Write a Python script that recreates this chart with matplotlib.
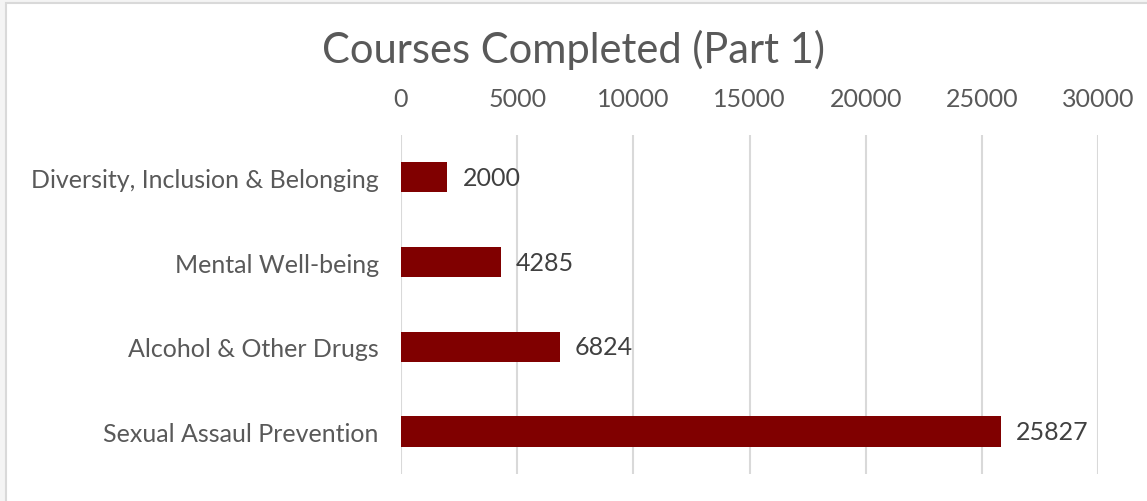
import matplotlib.pyplot as plt
from matplotlib.patches import Rectangle

plt.rcParams["font.family"] = ["Lato", "DejaVu Sans"]

courses = [
    "Diversity, Inclusion & Belonging",
    "Mental Well-being",
    "Alcohol & Other Drugs",
    "Sexual Assaul Prevention",
]
completed = [2000, 4285, 6824, 25827]
x_ticks = [0, 5000, 10000, 15000, 20000, 25000, 30000]

bar_color = "#800000"
grid_color = "#d9d9d9"
tick_color = "#595959"
label_color = "#404040"

fig = plt.figure(figsize=(11.47, 5.02), dpi=100, facecolor="#f4f4f4")
ax = fig.add_axes([0.3496, 0.054, 0.6077, 0.675])
ax.set_facecolor("none")

pos = list(range(len(courses)))
ax.barh(pos, completed, height=0.355, color=bar_color, zorder=3)
for y, v in zip(pos, completed):
    ax.text(v + 650, y, f"{v}", va="center", ha="left",
            fontsize=18, color=label_color)

ax.set_xlim(0, 30000)
ax.set_ylim(len(courses) - 0.5, -0.5)
ax.set_xticks(x_ticks)
ax.set_xticklabels([str(t) for t in x_ticks])
ax.set_yticks(pos)
ax.set_yticklabels(courses)
ax.xaxis.tick_top()
ax.tick_params(axis="x", length=0, pad=18, labelsize=18, labelcolor=tick_color)
ax.tick_params(axis="y", length=0, pad=16, labelsize=18, labelcolor=tick_color)
ax.grid(axis="x", color=grid_color, linewidth=1.5, zorder=0)
for s in ax.spines.values():
    s.set_visible(False)

fig.text(0.5, 0.90, "Courses Completed (Part 1)", ha="center", va="center",
         fontsize=30, color=tick_color)

# white chart area with a light frame, running off the right and bottom edges
w, h = fig.get_size_inches() * fig.dpi
fig.patches.append(Rectangle((6 / w, -0.02), 1.05, 1.02 - 4 / h,
                             transform=fig.transFigure, facecolor="white",
                             edgecolor=grid_color, linewidth=1.5, zorder=-1))

fig.savefig("out.png", dpi=100, facecolor=fig.get_facecolor())
